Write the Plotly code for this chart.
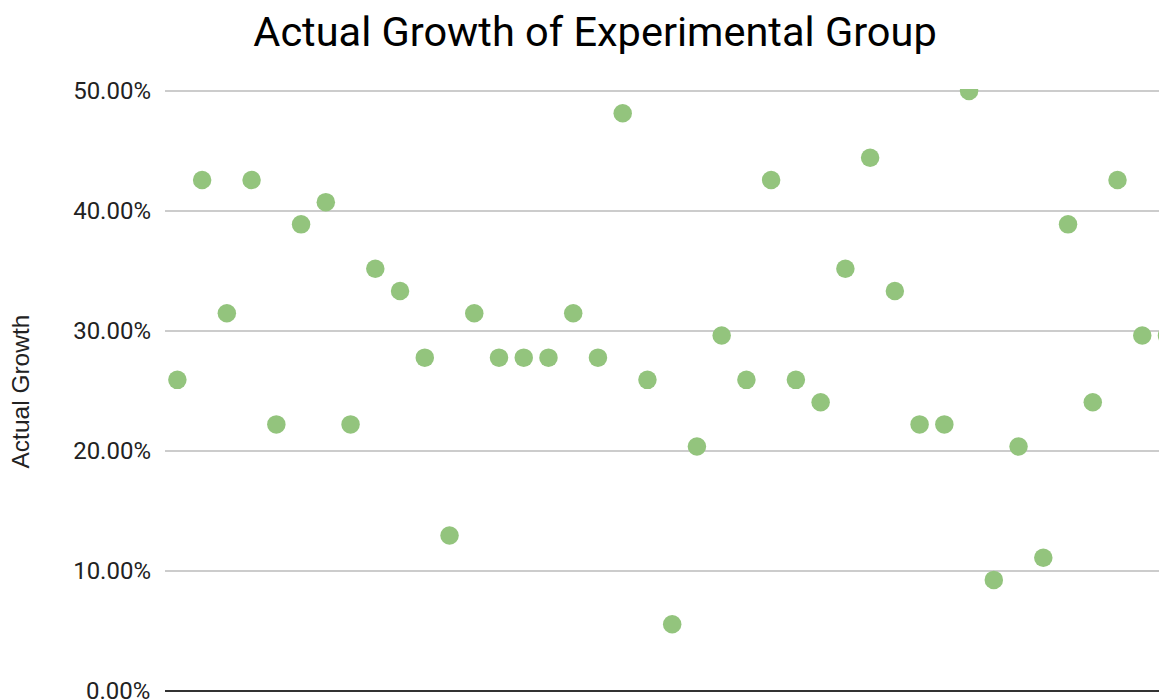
import plotly.graph_objects as go

index = list(range(1, 42))
growth = [25.93, 42.59, 31.48, 42.59, 22.22, 38.89, 40.74, 22.22, 35.19, 33.33,
          27.78, 12.96, 31.48, 27.78, 27.78, 27.78, 31.48, 27.78, 48.15, 25.93,
          5.56, 20.37, 29.63, 25.93, 42.59, 25.93, 24.07, 35.19, 44.44, 33.33,
          22.22, 22.22, 50.00, 9.26, 20.37, 11.11, 38.89, 24.07, 42.59, 29.63,
          29.63]
values = [g / 100 for g in growth]
y_ticks = [0.1, 0.2, 0.3, 0.4, 0.5]
zero_label = "0.00%"

W, H = 1159, 692
L, T = 157, 81
PW = W - L
PB = 683  # bottom of plot area in figure coords
PH = PB - T

tick_font = dict(family="Roboto", size=24, color="#222222")

fig = go.Figure()
fig.add_trace(go.Scatter(
    x=index, y=values, mode="markers",
    marker=dict(size=18.5, color="#93c47d", line=dict(width=0)),
    cliponaxis=True, showlegend=False,
))

fig.update_layout(
    width=W, height=H,
    margin=dict(l=L, r=0, t=T, b=H - PB, pad=0),
    paper_bgcolor="white", plot_bgcolor="white",
    title=dict(text="Actual Growth of Experimental Group",
               font=dict(family="Roboto", size=41.5, color="#000000"),
               x=587 / W, xref="container", xanchor="center",
               y=1 - 23 / H, yref="container", yanchor="middle"),
    xaxis=dict(range=[0.5, 41.0], showticklabels=False, showgrid=False,
               zeroline=False, showline=False, ticks=""),
    yaxis=dict(range=[0, 0.5017], tickvals=y_ticks, tickformat=".2%",
               showgrid=True, gridcolor="#cccccc", gridwidth=1.5,
               zeroline=True, zerolinecolor="#333333", zerolinewidth=1.5,
               showline=False, ticks="", ticklabelstandoff=13,
               tickfont=tick_font),
    annotations=[
        dict(text="Actual Growth", textangle=-90,
             xref="paper", yref="paper",
             x=(12 - L) / PW, y=(PB - 383.5) / PH,
             xanchor="center", yanchor="middle", showarrow=False,
             font=dict(family="Arial, Liberation Sans", size=24.5, color="#222222")),
        dict(text=zero_label, xref="paper", yref="y",
             x=-13 / PW, y=0, xanchor="right", yanchor="middle",
             showarrow=False, font=tick_font),
    ],
)

fig.write_html("out.html")
